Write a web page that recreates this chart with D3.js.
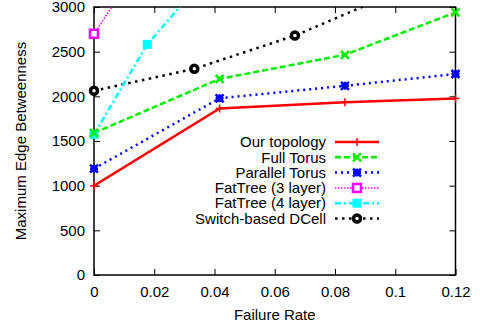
<!DOCTYPE html>
<html><head><meta charset="utf-8">
<script src="https://cdn.jsdelivr.net/npm/d3@7"></script>
<style>body{margin:0;background:#fff}svg{display:block}svg text{font-family:"Liberation Sans",Arial,sans-serif;font-size:15px;fill:#000}</style>
</head><body><svg id="c" width="480" height="327"></svg>
<script>
const xTicks = [0, 0.02, 0.04, 0.06, 0.08, 0.1, 0.12];
const xTickLabels = ["0", "0.02", "0.04", "0.06", "0.08", "0.1", "0.12"];
const yTicks = [0, 500, 1000, 1500, 2000, 2500, 3000];
const seriesNames = ["Our topology", "Full Torus", "Parallel Torus", "FatTree (3 layer)", "FatTree (4 layer)", "Switch-based DCell"];
const ourX = [0, 0.0417, 0.0833, 0.12];
const ourY = [1000, 1865, 1935, 1975];
const fullX = [0, 0.0417, 0.0833, 0.12];
const fullY = [1590, 2195, 2465, 2940];
const parX = [0, 0.0417, 0.0833, 0.12];
const parY = [1190, 1978, 2118, 2250];
const ft3X = [0, 0.0208];
const ft3Y = [2700, 3760];
const ft4X = [0, 0.0177, 0.0354];
const ft4Y = [1575, 2582, 3270];
const dcX = [0, 0.0333, 0.0667, 0.1];
const dcY = [2063, 2308, 2680, 3160];

const svg = d3.select("#c");
const L = 94, R = 455.5, T = 7, B = 275;
const x = d3.scaleLinear().domain([0, 0.12]).range([L, R]);
const y = d3.scaleLinear().domain([0, 3000]).range([B, T]);

svg.append("defs").append("clipPath").attr("id", "clip")
  .append("rect").attr("x", L).attr("y", T).attr("width", R - L).attr("height", B - T);

const ax = svg.append("g");
const gb = ax.append("g").attr("transform", `translate(0,${B})`)
  .call(d3.axisBottom(x).tickValues(xTicks).tickFormat((d, i) => xTickLabels[i]).tickSize(-6).tickPadding(10));
ax.append("g").attr("transform", `translate(0,${T})`)
  .call(d3.axisTop(x).tickValues(xTicks).tickFormat("").tickSize(-6));
const gl = ax.append("g").attr("transform", `translate(${L},0)`)
  .call(d3.axisLeft(y).tickValues(yTicks).tickFormat(d3.format("d")).tickSize(-6).tickPadding(10));
ax.append("g").attr("transform", `translate(${R},0)`)
  .call(d3.axisRight(y).tickValues(yTicks).tickFormat("").tickSize(-6));
ax.selectAll("g").attr("font-size", null).attr("font-family", null);
ax.selectAll(".domain").remove();
ax.selectAll("line").attr("stroke", "#000").attr("stroke-width", 1);
ax.selectAll("text").attr("fill", "#000");
gb.selectAll("text").attr("dy", null).attr("y", 22);
gl.selectAll("text").attr("x", -9);
svg.append("rect").attr("x", L).attr("y", T).attr("width", R - L).attr("height", B - T)
  .attr("fill", "none").attr("stroke", "#000").attr("stroke-width", 1.5);

svg.append("text").attr("transform", `translate(26,${(T + B) / 2}) rotate(-90)`)
  .attr("text-anchor", "middle").text("Maximum Edge Betweenness");
svg.append("text").attr("x", (L + R) / 2).attr("y", 320).attr("text-anchor", "middle").text("Failure Rate");

const styles = [
  {c: "#ff0000", w: 2.5, dash: null, m: "plus"},
  {c: "#00ee00", w: 2.5, dash: "6,3", m: "x"},
  {c: "#0000ff", w: 2.5, dash: "2,4", m: "star"},
  {c: "#ff00ff", w: 1.5, dash: "1.5,1.5", m: "osq"},
  {c: "#00ffff", w: 2.5, dash: "6,3,2,3", m: "sq"},
  {c: "#000000", w: 2.5, dash: "2.5,4.5", m: "circ"}
];
const data = [[ourX, ourY], [fullX, fullY], [parX, parY], [ft3X, ft3Y], [ft4X, ft4Y], [dcX, dcY]];

function marker(g, type, cx, cy, col) {
  if (type === "plus") {
    g.append("path").attr("d", `M${cx-4},${cy}H${cx+4}M${cx},${cy-4}V${cy+4}`).attr("stroke", col).attr("stroke-width", 1.5);
  } else if (type === "x") {
    g.append("path").attr("d", `M${cx-4},${cy-4}L${cx+4},${cy+4}M${cx-4},${cy+4}L${cx+4},${cy-4}`).attr("stroke", col).attr("stroke-width", 2.5);
  } else if (type === "star") {
    g.append("path").attr("d", `M${cx-4},${cy}H${cx+4}M${cx},${cy-4}V${cy+4}M${cx-4},${cy-4}L${cx+4},${cy+4}M${cx-4},${cy+4}L${cx+4},${cy-4}`).attr("stroke", col).attr("stroke-width", 2.5);
    g.append("rect").attr("x", cx-3).attr("y", cy-3).attr("width", 6).attr("height", 6).attr("fill", col);
  } else if (type === "osq") {
    g.append("rect").attr("x", cx-4).attr("y", cy-4).attr("width", 8).attr("height", 8).attr("fill", "#fff").attr("stroke", col).attr("stroke-width", 2.5);
  } else if (type === "sq") {
    g.append("rect").attr("x", cx-4.5).attr("y", cy-4.5).attr("width", 9).attr("height", 9).attr("fill", col);
  } else if (type === "circ") {
    g.append("circle").attr("cx", cx).attr("cy", cy).attr("r", 3.5).attr("fill", "#fff").attr("stroke", col).attr("stroke-width", 3.5);
  }
}

const plot = svg.append("g").attr("clip-path", "url(#clip)");
const line = d3.line().x(d => x(d[0])).y(d => y(d[1]));
const markG = svg.append("g");
for (let i = data.length - 1; i >= 0; i--) {
  const pts = data[i][0].map((v, j) => [v, data[i][1][j]]);
  const s = styles[i];
  plot.append("path").datum(pts).attr("d", line).attr("fill", "none")
    .attr("stroke", s.c).attr("stroke-width", s.w).attr("stroke-dasharray", s.dash);
  pts.filter(p => p[1] <= 3000).forEach(p => marker(markG, s.m, x(p[0]), y(p[1]), s.c));
}

const lg = svg.append("g");
seriesNames.forEach((n, i) => {
  const yy = 142 + i * 15.3;
  const s = styles[i];
  lg.append("text").attr("x", 326).attr("y", yy).attr("dy", "0.35em").attr("text-anchor", "end").text(n);
  lg.append("line").attr("x1", 335).attr("x2", 379).attr("y1", yy).attr("y2", yy)
    .attr("stroke", s.c).attr("stroke-width", s.w).attr("stroke-dasharray", s.dash);
  marker(lg, s.m, 357, yy, s.c);
});
</script></body></html>
